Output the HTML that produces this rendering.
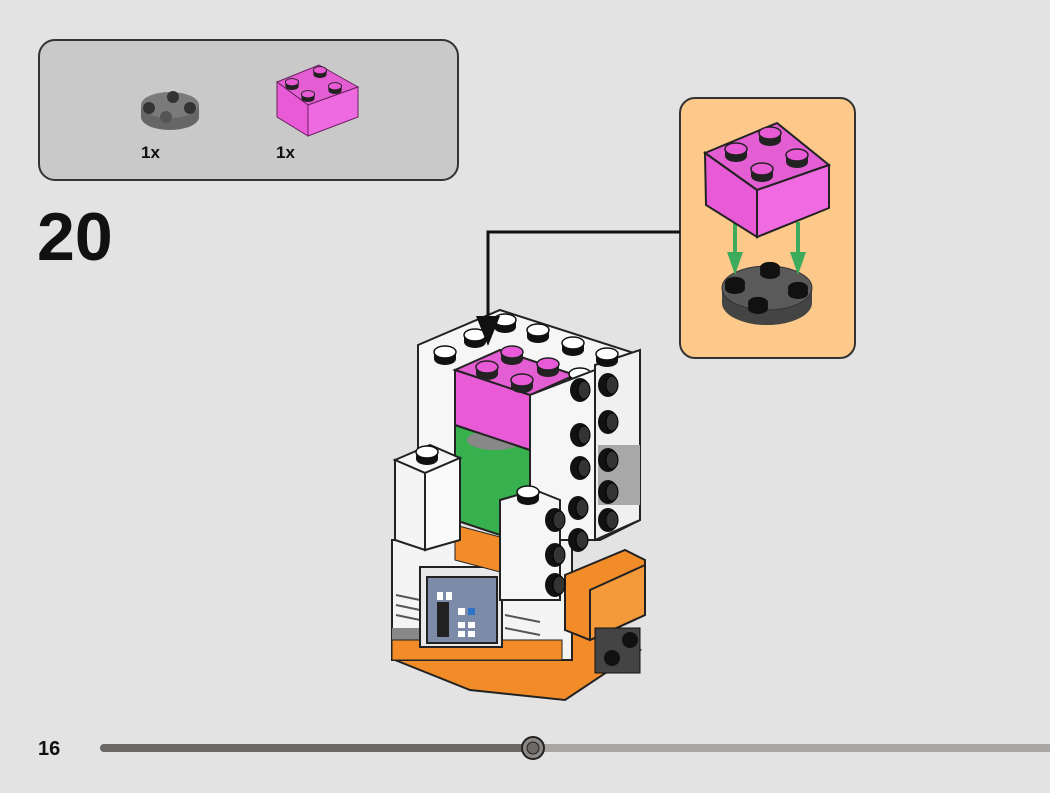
<!DOCTYPE html>
<html><head><meta charset="utf-8"><style>
html,body{margin:0;padding:0;background:#e3e3e3;}
body{width:1050px;height:793px;overflow:hidden;position:relative;font-family:"Liberation Sans",sans-serif;}
</style></head><body>
<svg width="1050" height="793" viewBox="0 0 1050 793" xmlns="http://www.w3.org/2000/svg" style="position:absolute;left:0;top:0">
<defs>
<g id="stud"><ellipse cx="0" cy="4" rx="11" ry="6" fill="#111"/><rect x="-11" y="-3" width="22" height="7" fill="#111"/><ellipse cx="0" cy="-3" rx="11" ry="6" fill="#111"/></g>
<g id="wstud"><ellipse cx="0" cy="4" rx="11" ry="6" fill="#111"/><rect x="-11" y="-3" width="22" height="7" fill="#111"/><ellipse cx="0" cy="-3" rx="11" ry="6" fill="#fff" stroke="#111" stroke-width="1.5"/></g>
<g id="pstud"><ellipse cx="0" cy="4" rx="11" ry="6" fill="#222"/><rect x="-11" y="-3" width="22" height="7" fill="#222"/><ellipse cx="0" cy="-3" rx="11" ry="6" fill="#e85ad6" stroke="#222" stroke-width="1.5"/></g>
<g id="sstud"><ellipse cx="0" cy="0" rx="10" ry="12" fill="#111"/><ellipse cx="4" cy="0" rx="6" ry="9" fill="#333" stroke="#000"/></g>
</defs>
<!-- parts box -->
<rect x="39" y="40" width="419" height="140" rx="16" fill="#c9c9c9" stroke="#333" stroke-width="2"/>
<ellipse cx="170" cy="117" rx="29" ry="13" fill="#666"/>
<rect x="141" y="105" width="58" height="12" fill="#666"/>
<ellipse cx="170" cy="105" rx="29" ry="13" fill="#7a7a7a"/>
<circle cx="149" cy="108" r="6" fill="#333"/><circle cx="173" cy="97" r="6" fill="#333"/><circle cx="190" cy="108" r="6" fill="#333"/><circle cx="166" cy="117" r="6" fill="#555"/>
<polygon points="277,82 319,65 358,87 308,105" fill="#e35ed2" stroke="#6a2060"/>
<polygon points="277,82 308,105 308,136 277,117" fill="#e85ad6" stroke="#6a2060"/>
<polygon points="308,105 358,87 358,117 308,136" fill="#ee6ae0" stroke="#6a2060"/>
<use href="#pstud" transform="translate(292,84) scale(0.6)"/><use href="#pstud" transform="translate(320,72) scale(0.6)"/><use href="#pstud" transform="translate(335,88) scale(0.6)"/><use href="#pstud" transform="translate(308,96) scale(0.6)"/>
<text x="141" y="158" font-size="17" font-weight="bold" fill="#111">1x</text>
<text x="276" y="158" font-size="17" font-weight="bold" fill="#111">1x</text>
<text x="37" y="260" font-size="68" font-weight="bold" fill="#111">20</text>

<!-- callout -->
<rect x="680" y="98" width="175" height="260" rx="15" fill="#fdc98a" stroke="#333" stroke-width="2"/>
<ellipse cx="767" cy="303" rx="45" ry="22" fill="#444"/>
<rect x="722" y="288" width="90" height="15" fill="#444"/>
<ellipse cx="767" cy="288" rx="45" ry="22" fill="#5a5a5a" stroke="#333"/>
<use href="#stud" transform="translate(735,285) scale(0.9)"/><use href="#stud" transform="translate(770,270) scale(0.9)"/><use href="#stud" transform="translate(798,290) scale(0.9)"/><use href="#stud" transform="translate(758,305) scale(0.9)"/>
<line x1="735" y1="222" x2="735" y2="262" stroke="#3cab5c" stroke-width="4"/>
<polygon points="727,252 743,252 735,275" fill="#3cab5c"/>
<line x1="798" y1="222" x2="798" y2="262" stroke="#3cab5c" stroke-width="4"/>
<polygon points="790,252 806,252 798,275" fill="#3cab5c"/>
<polygon points="705,153 777,123 829,165 757,190" fill="#e35ed2" stroke="#222" stroke-width="2"/>
<polygon points="705,153 757,190 757,237 706,205" fill="#e85ad6" stroke="#222" stroke-width="2"/>
<polygon points="757,190 829,165 829,208 757,237" fill="#f06ae2" stroke="#222" stroke-width="2"/>
<use href="#pstud" transform="translate(736,152)"/><use href="#pstud" transform="translate(770,136)"/><use href="#pstud" transform="translate(797,158)"/><use href="#pstud" transform="translate(762,172)"/>

<!-- main model -->
<polygon points="395,630 470,660 580,630 640,650 565,700 470,690 395,660" fill="#f28c28" stroke="#222" stroke-width="2"/>
<rect x="392" y="540" width="180" height="120" fill="#f4f4f4" stroke="#222" stroke-width="2"/>
<g stroke="#555" stroke-width="2">
<line x1="396" y1="595" x2="420" y2="600"/><line x1="396" y1="605" x2="420" y2="610"/><line x1="396" y1="615" x2="420" y2="620"/>
<line x1="505" y1="615" x2="540" y2="622"/><line x1="505" y1="628" x2="540" y2="635"/><line x1="505" y1="641" x2="540" y2="648"/>
</g>
<rect x="392" y="628" width="110" height="12" fill="#888"/>
<rect x="392" y="640" width="170" height="20" fill="#f28c28" stroke="#222"/>
<rect x="420" y="567" width="82" height="80" fill="#e8e8e8" stroke="#222" stroke-width="2"/>
<rect x="427" y="577" width="70" height="66" fill="#7b8ba8" stroke="#222" stroke-width="2"/>
<rect x="437" y="592" width="6" height="8" fill="#fff"/><rect x="446" y="592" width="6" height="8" fill="#fff"/>
<rect x="437" y="602" width="12" height="35" fill="#222"/>
<rect x="458" y="608" width="7" height="7" fill="#fff"/><rect x="468" y="608" width="7" height="7" fill="#2a73c9"/>
<rect x="458" y="622" width="7" height="6" fill="#fff"/><rect x="468" y="622" width="7" height="6" fill="#fff"/>
<rect x="458" y="631" width="7" height="6" fill="#fff"/><rect x="468" y="631" width="7" height="6" fill="#fff"/>
<polygon points="565,575 625,550 645,560 645,615 590,640 565,630" fill="#f28c28" stroke="#222" stroke-width="2"/>
<polygon points="590,590 645,565 645,615 590,640" fill="#f59a3a" stroke="#222" stroke-width="2"/>
<rect x="595" y="628" width="45" height="45" fill="#444" stroke="#111"/>
<circle cx="612" cy="658" r="8" fill="#111"/><circle cx="630" cy="640" r="8" fill="#111"/>
<polygon points="418,345 500,310 640,355 640,520 600,540 545,540 418,500" fill="#f6f6f6" stroke="#222" stroke-width="2"/>
<polygon points="595,365 640,350 640,520 595,540" fill="#f0f0f0" stroke="#222" stroke-width="2"/>
<rect x="598" y="445" width="42" height="60" fill="#a8a8a8"/>
<polygon points="455,525 530,545 530,580 455,560" fill="#f28c28" stroke="#222"/>
<polygon points="455,425 530,450 530,545 455,520" fill="#37b04e" stroke="#222" stroke-width="2"/>
<ellipse cx="495" cy="440" rx="28" ry="10" fill="#888"/>
<polygon points="455,370 500,350 575,375 530,395" fill="#e35ed2" stroke="#222" stroke-width="2"/>
<polygon points="455,370 530,395 530,450 455,425" fill="#e85ad6" stroke="#222" stroke-width="2"/>
<use href="#pstud" transform="translate(487,370)"/><use href="#pstud" transform="translate(512,355)"/><use href="#pstud" transform="translate(548,367)"/><use href="#pstud" transform="translate(522,383)"/>
<use href="#wstud" transform="translate(445,355)"/><use href="#wstud" transform="translate(475,338)"/><use href="#wstud" transform="translate(505,323)"/>
<use href="#wstud" transform="translate(538,333)"/><use href="#wstud" transform="translate(573,346)"/><use href="#wstud" transform="translate(607,357)"/>
<use href="#wstud" transform="translate(580,377)"/><use href="#wstud" transform="translate(553,400)"/>
<polygon points="530,395 595,370 595,540 530,540" fill="#f6f6f6" stroke="#222" stroke-width="2"/>
<use href="#sstud" transform="translate(580,390)"/><use href="#sstud" transform="translate(608,385)"/>
<use href="#sstud" transform="translate(580,435)"/><use href="#sstud" transform="translate(608,422)"/>
<use href="#sstud" transform="translate(580,468)"/><use href="#sstud" transform="translate(608,460)"/>
<use href="#sstud" transform="translate(608,492)"/><use href="#sstud" transform="translate(608,520)"/>
<polygon points="500,500 535,490 560,500 560,600 500,600" fill="#f6f6f6" stroke="#222" stroke-width="2"/>
<use href="#wstud" transform="translate(528,495)"/>
<use href="#sstud" transform="translate(555,520)"/><use href="#sstud" transform="translate(578,508)"/>
<use href="#sstud" transform="translate(555,555)"/><use href="#sstud" transform="translate(578,540)"/>
<use href="#sstud" transform="translate(555,585)"/>
<polygon points="395,460 430,445 460,458 425,473" fill="#f6f6f6" stroke="#222" stroke-width="2"/>
<polygon points="395,460 425,473 425,550 395,540" fill="#f4f4f4" stroke="#222" stroke-width="2"/>
<polygon points="425,473 460,458 460,540 425,550" fill="#fafafa" stroke="#222" stroke-width="2"/>
<use href="#wstud" transform="translate(427,455)"/>

<!-- connector (on top) -->
<polyline points="680,232 488,232 488,322" fill="none" stroke="#111" stroke-width="3"/>
<polygon points="476,316 500,316 488,346" fill="#111"/>

<!-- bottom progress -->
<text x="38" y="755" font-size="20" font-weight="bold" fill="#111">16</text>
<line x1="104" y1="748" x2="1050" y2="748" stroke="#aaa6a3" stroke-width="8" stroke-linecap="round"/>
<line x1="104" y1="748" x2="533" y2="748" stroke="#6b6866" stroke-width="8" stroke-linecap="round"/>
<circle cx="533" cy="748" r="11" fill="#8a8785" stroke="#222" stroke-width="2"/>
<circle cx="533" cy="748" r="6" fill="#6b6866" stroke="#222"/>
</svg>
</body></html>
